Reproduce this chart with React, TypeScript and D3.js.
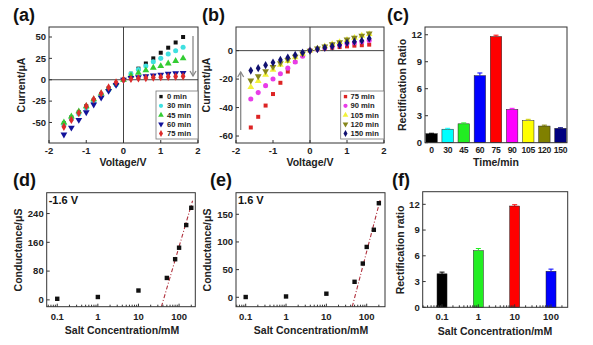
import React from 'react';
import * as d3 from 'd3';

const FONT = '"Liberation Sans", Arial, Helvetica, sans-serif';

// ---------- Data ----------
const voltages = [-1.6, -1.4, -1.2, -1.0, -0.8, -0.6, -0.4, -0.2, 0, 0.2, 0.4, 0.6, 0.8, 1.0, 1.2, 1.4, 1.6];

const aLabels = ['0 min', '30 min', '45 min', '60 min', '75 min'];
const a0 = [-51, -44, -38, -31, -24, -17, -10, -5, 0, 7, 13, 19, 25, 31.6, 37.5, 43.6, 50];
const a30 = [-53, -46, -40, -33, -26, -19, -12, -6, 0, 7, 12, 16, 21, 25, 30, 34, 38];
const a45 = [-50, -43, -37, -31, -23, -16, -10, -4, 0, 5, 8, 11, 14, 16, 19, 22, 25];
const a60 = [-64, -56, -47, -38, -29, -21, -13, -6, 0, 2, 3, 4, 5, 6, 7, 7.5, 8];
const a75 = [-55, -47, -39, -31, -23, -16, -9, -3, 0, 1, 1.5, 2, 2.5, 3, 3.5, 3.8, 4];

const bLabels = ['75 min', '90 min', '105 min', '120 min', '150 min'];
const b75 = [-54, -46.5, -38.6, -30.5, -22.6, -14.7, -8, -3, 0, 1, 1.5, 2, 2.5, 3, 3.5, 3.8, 4.2];
const b90 = [-34, -29.5, -24.6, -20, -16.3, -12.3, -8, -4, 0, 1, 2, 3, 4, 5, 5.5, 6.3, 7.2];
const b105 = [-25.6, -21.4, -17, -13.5, -10, -7.4, -4.6, -2.3, 0, 1.5, 3, 4.5, 6, 7.5, 9, 10.5, 11.6];
const b120 = [-21, -18, -14.4, -11.4, -8.8, -6.5, -4.2, -2, 0, 1.5, 3, 4.5, 6, 7.8, 9, 10.5, 12];
const b150 = [-14, -12.3, -10.2, -8.4, -6.5, -4.9, -3, -1.4, 0, 1, 2, 3, 4, 5.5, 6.3, 7, 8.6];

const timeLabels = ['0', '30', '45', '60', '75', '90', '105', '120', '150'];
const timeRatios = [1.0, 1.5, 2.1, 7.45, 11.8, 3.7, 2.45, 1.85, 1.6];
const timeErrors = [0.05, 0.1, 0.1, 0.3, 0.15, 0.12, 0.15, 0.1, 0.06];

const concentrations = [0.1, 1, 10, 50, 80, 100, 150, 200];
const condNeg = [3, 8, 26, 61, 113, 145, 208, 256];
const condPos = [0.5, 1.5, 6.5, 28, 61, 91, 122, 170];
const fitNeg = [384, -620]; // slope, intercept vs log10(c)
const fitPos = [279, -475];

const saltConc = [0.1, 1, 10, 100];
const saltLabels = ['0.1', '1', '10', '100'];
const saltRatios = [3.9, 6.6, 11.8, 4.2];
const saltErrors = [0.2, 0.25, 0.15, 0.25];

// ---------- styles ----------
const AX = '#333';
const aColors = ['#111111', '#3fe0e0', '#33cc33', '#12129a', '#dd2b2b'];
const bColors = ['#dd2424', '#e83ce8', '#f2f23a', '#86861a', '#101070'];
const cColors = ['#000000', '#00ffff', '#22ee22', '#0000ff', '#ff0000', '#ff00ff', '#ffff00', '#808000', '#000080'];
const fColors = ['#000000', '#22ee22', '#ff0000', '#0000ff'];
const symbols = [d3.symbolSquare, d3.symbolCircle, d3.symbolTriangle, 'down', d3.symbolDiamond];

type Box = { l: number; r: number; t: number; b: number };

function markerPath(kind: any, size: number) {
  if (kind === 'down') return d3.symbol(d3.symbolTriangle, size)();
  return d3.symbol(kind, size)();
}

function Marker({ x, y, idx, color, scale = 1 }: { x: number; y: number; idx: number; color: string; scale?: number }) {
  const kind = symbols[idx];
  const size = (idx === 0 ? 16 : 20) * scale;
  const rot = kind === 'down' ? 180 : 0;
  return <path d={markerPath(kind, size) as string} transform={`translate(${x},${y}) rotate(${rot})`} fill={color} />;
}

function Frame({ box }: { box: Box }) {
  return <rect x={box.l} y={box.t} width={box.r - box.l} height={box.b - box.t} fill="none" stroke={AX} strokeWidth={1} />;
}

function YTicks({ box, ys, ticks, fmt }: any) {
  return (
    <g>
      {ticks.map((v: number) => (
        <g key={v}>
          <line x1={box.l} x2={box.l + 3} y1={ys(v)} y2={ys(v)} stroke={AX} />
          <text x={box.l - 3} y={ys(v)} dy="0.35em" textAnchor="end" fontSize={9.5} fontWeight="bold" fontFamily={FONT} fill="#222">
            {fmt ? fmt(v) : String(v)}
          </text>
        </g>
      ))}
    </g>
  );
}

function XTicks({ box, xs, ticks, labels, dy = 11 }: any) {
  return (
    <g>
      {ticks.map((v: number, i: number) => (
        <g key={i}>
          <line x1={xs(v)} x2={xs(v)} y1={box.b} y2={box.b - 3} stroke={AX} />
          <text x={xs(v)} y={box.b + dy} textAnchor="middle" fontSize={9.5} fontWeight="bold" fontFamily={FONT} fill="#222">
            {labels ? labels[i] : String(v)}
          </text>
        </g>
      ))}
    </g>
  );
}

function MinorLogTicks({ box, xs }: any) {
  const [d0, d1] = xs.domain();
  const vals: number[] = [];
  for (let e = -3; e <= 4; e++) {
    for (let m = 2; m <= 9; m++) {
      const v = m * Math.pow(10, e);
      if (v > d0 && v < d1) vals.push(v);
    }
  }
  return (
    <g>
      {vals.map((v, i) => (
        <line key={i} x1={xs(v)} x2={xs(v)} y1={box.b} y2={box.b - 2} stroke={AX} />
      ))}
    </g>
  );
}

function YTitle({ x, y, text }: any) {
  return (
    <text transform={`translate(${x},${y}) rotate(-90)`} textAnchor="middle" fontSize={10.5} fontWeight="bold" fontFamily={FONT} fill="#222">
      {text}
    </text>
  );
}

function XTitle({ x, y, text }: any) {
  return (
    <text x={x} y={y} textAnchor="middle" fontSize={10.5} fontWeight="bold" fontFamily={FONT} fill="#222">
      {text}
    </text>
  );
}

function PanelLabel({ x, y, text }: any) {
  return (
    <text x={x} y={y} fontSize={18} fontWeight="bold" fontFamily={FONT} fill="#111">
      {text}
    </text>
  );
}

function Legend({ box, labels, colors, mx, tx }: any) {
  const rowH = (box.b - box.t - 2) / labels.length;
  return (
    <g>
      <rect x={box.l} y={box.t} width={box.r - box.l} height={box.b - box.t} fill="white" stroke="#777" strokeWidth={0.8} />
      {labels.map((lab: string, i: number) => {
        const y = box.t + 1 + rowH * (i + 0.5);
        return (
          <g key={i}>
            <Marker x={mx} y={y} idx={i} color={colors[i]} scale={0.7} />
            <text x={tx} y={y} dy="0.35em" fontSize={7.6} fontWeight="bold" fontFamily={FONT} fill="#222">
              {lab}
            </text>
          </g>
        );
      })}
    </g>
  );
}

function Arrow({ x, y1, y2 }: any) {
  const dir = y2 > y1 ? 1 : -1;
  return (
    <g stroke="#888" strokeWidth={1.3} fill="none">
      <line x1={x} x2={x} y1={y1} y2={y2} />
      <polyline points={`${x - 3},${y2 - dir * 5} ${x},${y2} ${x + 3},${y2 - dir * 5}`} />
    </g>
  );
}

function IVPanel({ box, yDomain, yTicks, series, colors, labels, legendBox, mx, tx, arrow }: any) {
  const xs = d3.scaleLinear().domain([-2, 2]).range([box.l, box.r]);
  const ys = d3.scaleLinear().domain(yDomain).range([box.b, box.t]);
  return (
    <g>
      <line x1={xs(0)} x2={xs(0)} y1={box.t} y2={box.b} stroke="#444" strokeWidth={1} />
      <line x1={box.l} x2={box.r} y1={ys(0)} y2={ys(0)} stroke="#444" strokeWidth={1} />
      {series.map((s: number[], si: number) =>
        s.map((v, i) => <Marker key={`${si}-${i}`} x={xs(voltages[i])} y={ys(v)} idx={si} color={colors[si]} />)
      )}
      <Frame box={box} />
      <YTicks box={box} ys={ys} ticks={yTicks} />
      <XTicks box={box} xs={xs} ticks={[-2, -1, 0, 1, 2]} />
      <Legend box={legendBox} labels={labels} colors={colors} mx={mx} tx={tx} />
      {arrow}
    </g>
  );
}

function CondPanel({ box, xDomain, yDomain, yTicks, values, fit, note }: any) {
  const xs = d3.scaleLog().domain(xDomain).range([box.l, box.r]);
  const ys = d3.scaleLinear().domain(yDomain).range([box.b, box.t]);
  const [slope, icpt] = fit;
  const lStart = (yDomain[0] - icpt) / slope;
  const lEnd = Math.log10(215);
  const line = d3.line<number>().x((l) => xs(Math.pow(10, l))).y((l) => ys(slope * l + icpt));
  return (
    <g>
      <path d={line([lStart, lEnd]) as string} stroke="#b0303c" strokeWidth={1.1} strokeDasharray="4,2,1,2" fill="none" />
      {values.map((v: number, i: number) => (
        <rect key={i} x={xs(concentrations[i]) - 2.2} y={ys(v) - 2.2} width={4.4} height={4.4} fill="#111" />
      ))}
      <Frame box={box} />
      <YTicks box={box} ys={ys} ticks={yTicks} />
      <MinorLogTicks box={box} xs={xs} />
      <XTicks box={box} xs={xs} ticks={[0.1, 1, 10, 100]} labels={['0.1', '1', '10', '100']} dy={13} />
      <text x={box.l + 2} y={box.t + 11} fontSize={11} fontWeight="bold" fontFamily={FONT} fill="#111">
        {note}
      </text>
    </g>
  );
}

export default function App() {
  const boxA: Box = { l: 49, r: 198, t: 27, b: 143 };
  const boxB: Box = { l: 236, r: 384, t: 27, b: 143 };
  const boxC: Box = { l: 425, r: 567, t: 27, b: 142.7 };
  const boxD: Box = { l: 46.7, r: 195.3, t: 192.7, b: 306.7 };
  const boxE: Box = { l: 236, r: 385, t: 192.7, b: 306.7 };
  const boxF: Box = { l: 422.7, r: 567.7, t: 191.7, b: 307.3 };

  // Panel c
  const xc = d3.scaleBand<string>().domain(timeLabels).range([boxC.l, boxC.r]).paddingInner(0.29).paddingOuter(0.05);
  const yc = d3.scaleLinear().domain([0, 12.86]).range([boxC.b, boxC.t]);

  // Panel f
  const xf = d3.scaleLog().domain([0.0294, 288]).range([boxF.l, boxF.r]);
  const yf = d3.scaleLinear().domain([0, 13.47]).range([boxF.b, boxF.t]);
  const fW = 10;

  return (
    <svg width={593} height={345} style={{ position: 'absolute', left: 0, top: 0, background: 'white' }}>
      <rect x={0} y={0} width={593} height={345} fill="white" />

      {/* (a) */}
      <PanelLabel x={13} y={21} text="(a)" />
      <IVPanel
        box={boxA}
        yDomain={[-74, 61.7]}
        yTicks={[-50, -25, 0, 25, 50]}
        series={[a0, a30, a45, a60, a75]}
        colors={aColors}
        labels={aLabels}
        legendBox={{ l: 156, r: 198, t: 91, b: 139 }}
        mx={161}
        tx={167}
        arrow={<Arrow x={193} y1={36} y2={76} />}
      />
      <YTitle x={25} y={85} text="Current/μA" />
      <XTitle x={123} y={166} text="Voltage/V" />

      {/* (b) */}
      <PanelLabel x={202} y={21} text="(b)" />
      <IVPanel
        box={boxB}
        yDomain={[-64.9, 16.6]}
        yTicks={[-60, -40, -20, 0]}
        series={[b75, b90, b105, b120, b150]}
        colors={bColors}
        labels={bLabels}
        legendBox={{ l: 340.7, r: 384, t: 91, b: 139 }}
        mx={345.5}
        tx={350.5}
        arrow={<Arrow x={240.7} y1={130} y2={72} />}
      />
      <YTitle x={210} y={85} text="Current/μA" />
      <XTitle x={310} y={166} text="Voltage/V" />

      {/* (c) */}
      <PanelLabel x={387} y={21} text="(c)" />
      <g>
        {timeLabels.map((t, i) => {
          const x = xc(t) as number;
          const w = xc.bandwidth();
          const cx = x + w / 2;
          const ec = cColors[i] === '#ffff00' ? '#cccc00' : cColors[i];
          return (
            <g key={t}>
              <rect x={x} y={yc(timeRatios[i])} width={w} height={yc(0) - yc(timeRatios[i])} fill={cColors[i]} stroke="#222" strokeWidth={0.5} />
              <line x1={cx} x2={cx} y1={yc(timeRatios[i] + timeErrors[i])} y2={yc(timeRatios[i])} stroke={ec} strokeWidth={1} />
              <line x1={cx - 2.5} x2={cx + 2.5} y1={yc(timeRatios[i] + timeErrors[i])} y2={yc(timeRatios[i] + timeErrors[i])} stroke={ec} strokeWidth={1} />
              <text x={cx} y={boxC.b + 10.3} textAnchor="middle" fontSize={8.6} fontWeight="bold" fontFamily={FONT} fill="#222" letterSpacing={-0.3}>
                {t}
              </text>
            </g>
          );
        })}
        <Frame box={boxC} />
        <YTicks box={boxC} ys={yc} ticks={[0, 3, 6, 9, 12]} />
      </g>
      <YTitle x={406} y={85} text="Rectification Ratio" />
      <XTitle x={496} y={165.5} text="Time/min" />

      {/* (d) */}
      <PanelLabel x={13} y={186} text="(d)" />
      <CondPanel box={boxD} xDomain={[0.055, 251]} yDomain={[-19, 298]} yTicks={[0, 80, 160, 240]} values={condNeg} fit={fitNeg} note="-1.6 V" />
      <YTitle x={22} y={250} text="Conductance/μS" />
      <XTitle x={122} y={334} text="Salt Concentration/mM" />

      {/* (e) */}
      <PanelLabel x={210} y={186} text="(e)" />
      <CondPanel box={boxE} xDomain={[0.0575, 284]} yDomain={[-17, 189]} yTicks={[0, 50, 100, 150]} values={condPos} fit={fitPos} note="1.6 V" />
      <YTitle x={211} y={250} text="Conductance/μS" />
      <XTitle x={311} y={334} text="Salt Concentration/mM" />

      {/* (f) */}
      <PanelLabel x={392} y={186} text="(f)" />
      <g>
        {saltConc.map((c, i) => {
          const cx = xf(c);
          const top = yf(saltRatios[i] + saltErrors[i]);
          return (
            <g key={i}>
              <rect x={cx - fW / 2} y={yf(saltRatios[i])} width={fW} height={yf(0) - yf(saltRatios[i])} fill={fColors[i]} stroke="#222" strokeWidth={0.5} />
              <line x1={cx} x2={cx} y1={top} y2={yf(saltRatios[i])} stroke={fColors[i]} />
              <line x1={cx - 2.5} x2={cx + 2.5} y1={top} y2={top} stroke={fColors[i]} />
            </g>
          );
        })}
        <Frame box={boxF} />
        <YTicks box={boxF} ys={yf} ticks={[0, 3, 6, 9, 12]} />
        <MinorLogTicks box={boxF} xs={xf} />
        <XTicks box={boxF} xs={xf} ticks={saltConc} labels={saltLabels} dy={13} />
      </g>
      <YTitle x={404} y={250} text="Rectification ratio" />
      <XTitle x={495} y={335} text="Salt Concentration/mM" />
    </svg>
  );
}
